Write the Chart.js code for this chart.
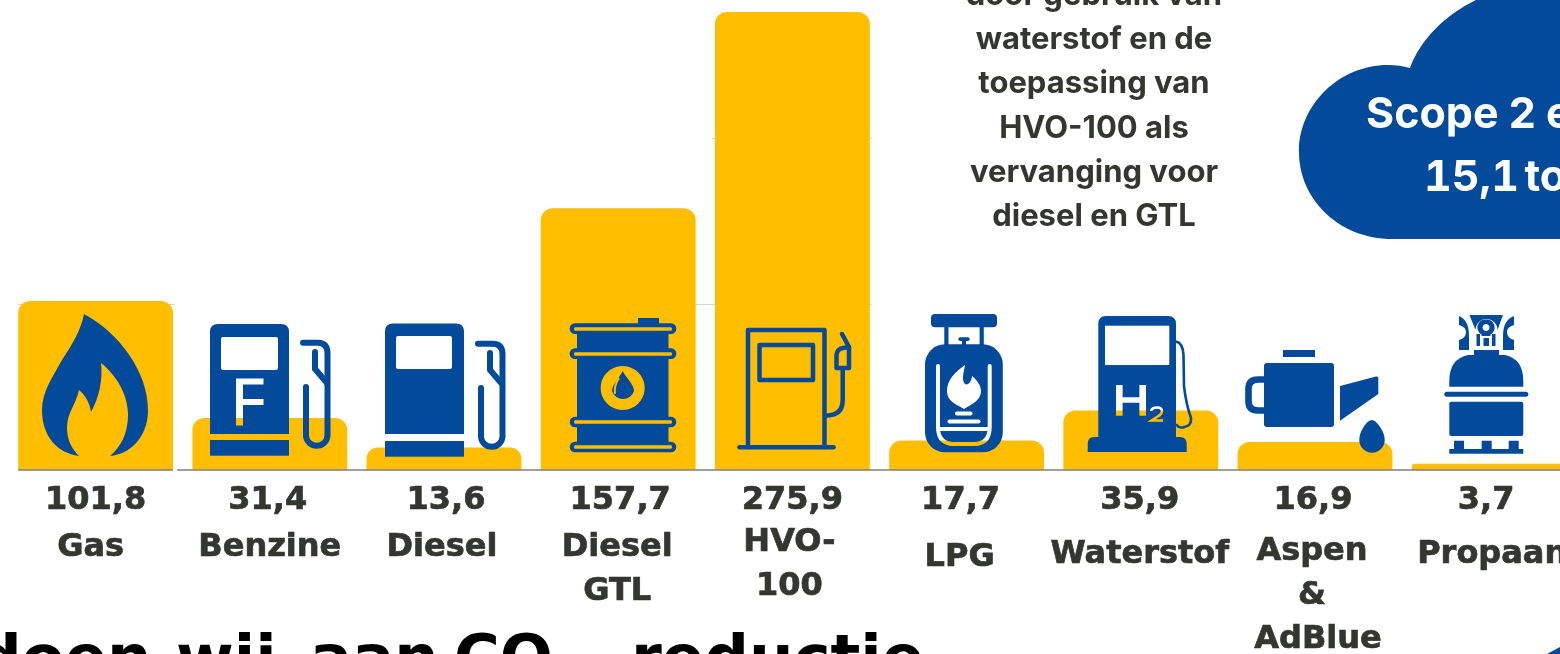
<!DOCTYPE html>
<html lang="nl">
<head>
<meta charset="utf-8">
<title>Brandstofverbruik</title>
<script src="https://cdn.jsdelivr.net/npm/chart.js@4"></script>
<style>
    html, body { margin: 0; padding: 0; background: #fff; }
    body { position: relative; width: 1560px; height: 654px; overflow: hidden; }
    #grafiek { position: absolute; left: 0; top: 0; }
    #iconen { position: absolute; left: 0; top: 0; pointer-events: none; }
    .toelichting {
        position: absolute; left: 934px; width: 320px; text-align: center;
        font: 700 31px/44.2px Inter, sans-serif; color: #333631; white-space: nowrap;
    }
    .wolk { position: absolute; color: #fff; font: 700 43px/50px Inter, sans-serif; white-space: nowrap; }
    .kop {
        position: absolute; top: 621px; white-space: nowrap; color: #000;
        font: 700 62.5px/74px "DejaVu Sans", sans-serif;
    }
    .kop sub { font-size: 36px; position: relative; top: 22px; vertical-align: baseline; }
</style>
</head>
<body>
<canvas id="grafiek" width="1580" height="654"></canvas>

<svg id="iconen" width="1560" height="654" viewBox="0 0 1560 654">
    <defs>
        <mask id="gatenLpg" maskUnits="userSpaceOnUse" x="900" y="300" width="120" height="170">
            <rect x="900" y="300" width="120" height="170" fill="#fff"/>
            <path d="M938 366 V427 Q938 444 954 444 H974 Q989.7 444 989.7 427 V366 M938 429 H989.7" fill="none" stroke="#000" stroke-width="4" stroke-linecap="round"/>
            <path d="M965 365 C955 372 947 380 947 391 C947 402 958 405 964 409 C970 405 981 401 981 391 C981 385 976 379 972 376 C972 381 968 386 965 384 C961 380 964 372 965 365Z" fill="#000"/>
            <rect x="955" y="411.5" width="17.5" height="4" rx="2" fill="#000"/>
            <rect x="947.5" y="419.5" width="33" height="4" rx="2" fill="#000"/>
        </mask>
        <mask id="gatenH2" maskUnits="userSpaceOnUse" x="1080" y="300" width="120" height="170">
            <rect x="1080" y="300" width="120" height="170" fill="#fff"/>
            <rect x="1105" y="325.7" width="64.3" height="39.3" fill="#000"/>
            <path d="M1116 385 H1122.6 V397.3 H1139.4 V385 H1146 V415.7 H1139.4 V402.7 H1122.6 V415.7 H1116Z" fill="#000"/>
            <path d="M1151 411 Q1152 407.5 1157 407.5 Q1162 407.5 1162 411 Q1162 414 1157 417 L1151.5 420.5 H1163" fill="none" stroke="#000" stroke-width="2.6"/>
        </mask>
    </defs>
    <g fill="#034A9A">
        <!-- gas -->
        <path d="M84 314 C118 332 149 372 148 412 C147 438 130 454 110 456 C121 447 128 433 128 415 C128 394 116 375 101 363 C103 380 99 398 91 412 C90 403 85 395 79 390 C76 405 67 412 67 428 C67 440 72 449 79 456 C57 453 42 436 42 410 C42 392 52 378 62 360 C72 345 81 330 84 314Z"/>
        <!-- benzine -->
        <path fill-rule="evenodd" d="M218 324 H281 Q289 324 289 332 V434 H210 V332 Q210 324 218 324Z M223 337 Q221 337 221 339 V368 Q221 370 223 370 H276 Q278 370 278 368 V339 Q278 337 276 337Z M236 378.5 V425.5 H243 V405 H263.5 V399 H243 V384.5 H263.5 V378.5Z"/>
        <rect x="210" y="440" width="79" height="15.7"/>
        <g id="slang" fill="none" stroke="#034A9A" stroke-width="6" stroke-linecap="round">
            <path d="M303 342.7 H318 Q327.5 343 327.5 353 V436 A10.8 10.8 0 0 1 306 436 V387"/>
            <path d="M315 352 V369 L327 383"/>
        </g>
        <!-- diesel -->
        <path fill-rule="evenodd" d="M393 323.5 H456 Q464 323.5 464 331.5 V434 H385 V331.5 Q385 323.5 393 323.5Z M398 336 Q396 336 396 338 V367 Q396 369 398 369 H450 Q452 369 452 367 V338 Q452 336 450 336Z"/>
        <rect x="385" y="441" width="79" height="15.7"/>
        <use href="#slang" transform="translate(175 1)"/>
        <!-- diesel gtl -->
        <rect x="638" y="318" width="21" height="7"/>
        <path fill-rule="evenodd" d="M577 333.5 H668.5 V349 H577Z M577 358.5 H668.5 V417 H577Z M577 427 H668.5 V442 H577Z M622.6 366 A22 22 0 1 0 622.7 366Z"/>
        <path fill-rule="evenodd" d="M575 323.3 H671 A5.3 5.3 0 0 1 671 334 H575 A5.3 5.3 0 0 1 575 323.3Z M575 327.2 Q574 327.2 574 329 Q574 330.8 575 330.8 H671 Q672 330.8 672 329 Q672 327.2 671 327.2Z"/>
        <path fill-rule="evenodd" d="M575 348.3 H671 A5.3 5.3 0 0 1 671 359 H575 A5.3 5.3 0 0 1 575 348.3Z M575 352.2 Q574 352.2 574 354 Q574 355.8 575 355.8 H671 Q672 355.8 672 354 Q672 352.2 671 352.2Z"/>
        <path fill-rule="evenodd" d="M575 416.7 H671 A5.3 5.3 0 0 1 671 427.3 H575 A5.3 5.3 0 0 1 575 416.7Z M575 420.2 Q574 420.2 574 422 Q574 423.8 575 423.8 H671 Q672 423.8 672 422 Q672 420.2 671 420.2Z"/>
        <path fill-rule="evenodd" d="M575 441.7 H671 A5.3 5.3 0 0 1 671 452.3 H575 A5.3 5.3 0 0 1 575 441.7Z M575 445.2 Q574 445.2 574 447 Q574 448.8 575 448.8 H671 Q672 448.8 672 447 Q672 445.2 671 445.2Z"/>
        <path d="M622.6 371 C626 378 634 384 634 391 A11.4 11 0 0 1 612 391 C612 384 620 378 622.6 371Z"/>
        <path d="M619 378 C615 384 614 388 615 394" fill="none" stroke="#FFBF00" stroke-width="2"/>
        <!-- hvo-100 -->
        <g fill="none" stroke="#034A9A" stroke-width="4.5" stroke-linecap="round" stroke-linejoin="round">
            <path d="M748 447 V330 H824.5 V447"/>
            <path d="M739.5 447.3 H833.5"/>
            <rect x="759.5" y="345" width="53.5" height="35"/>
            <path d="M827 415.5 Q842.7 415 842.7 400 V370"/>
            <path d="M836.5 368 V355 Q837 349 843 348 L849 347 V368Z"/>
            <path d="M842 334 L849 347"/>
        </g>
        <!-- lpg -->
        <g mask="url(#gatenLpg)">
            <rect x="931" y="314" width="66" height="13.3" rx="4"/>
            <rect x="944.3" y="327" width="4.2" height="19"/>
            <rect x="979.6" y="327" width="4.2" height="19"/>
            <rect x="958.4" y="337.3" width="11.3" height="3.7" rx="1.8"/>
            <rect x="962" y="340" width="4" height="6"/>
            <rect x="925" y="344.3" width="77.8" height="108" rx="20"/>
        </g>
        <!-- waterstof -->
        <g mask="url(#gatenH2)">
            <path d="M1106 316 H1168 Q1176 316 1176 324 V437 H1180 Q1186.7 437 1186.7 444 V452 H1087.7 V444 Q1087.7 437 1094 437 H1098.3 V324 Q1098.3 316 1106 316Z"/>
        </g>
        <path d="M1176 341.5 Q1183 343 1183.5 355 L1184 386 Q1186 404 1191 418 Q1192 426 1183 427.5 Q1178 428 1176 424" fill="none" stroke="#034A9A" stroke-width="2.6"/>
        <!-- aspen & adblue -->
        <rect x="1283" y="350" width="32" height="7"/>
        <rect x="1264" y="363" width="70" height="64" rx="3"/>
        <path d="M1264 379.5 H1258 Q1248.5 379.5 1248.5 389 V401 Q1248.5 410.5 1258 410.5 H1264" fill="none" stroke="#034A9A" stroke-width="6.6"/>
        <path d="M1340 386 L1376 376.5 Q1378.3 376 1378.3 378 V394 L1340 420.7Z"/>
        <path d="M1372 420 C1376 420 1384.7 431 1384.7 440 A12.7 12.7 0 0 1 1359.3 440 C1359.3 431 1367 420 1372 420Z"/>
        <!-- propaan -->
        <path d="M1474 350 H1499 V355 H1505 Q1523.3 359 1523.3 381 V386.7 H1449.3 V381 Q1449.3 359 1468 355 H1474Z"/>
        <rect x="1444.3" y="391.7" width="84" height="5" rx="2.5"/>
        <rect x="1449.3" y="401.7" width="74" height="34.3" rx="2"/>
        <path d="M1449.3 449 H1454 V440.7 H1464 V449 H1481.7 V440.7 H1491.7 V449 H1508.7 V440.7 H1518.7 V449 H1523.3 V453.7 H1449.3Z"/>
        <path d="M1459 316 Q1469 320 1469 336 V350 H1459 V340 Q1466 338 1466 332 Q1466 327 1459 325Z"/>
        <path d="M1514 316 Q1503 320 1503 336 V350 H1514 V340 Q1507 338 1507 332 Q1507 327 1514 325Z"/>
        <path fill-rule="evenodd" d="M1469.5 315 H1503 L1497.5 330 A11 11 0 1 0 1475.5 330Z"/>
        <path fill-rule="evenodd" d="M1486 319.5 A8 8 0 0 1 1490.5 334.5 V336 H1481.5 V334.5 A8 8 0 0 1 1486 319.5Z M1486 324 A3.5 3.5 0 1 0 1486.1 324Z"/>
        <rect x="1476.5" y="334" width="3.5" height="12"/>
        <rect x="1492" y="334" width="3.5" height="12"/>
        <rect x="1483.5" y="338" width="5.5" height="8"/>
        <!-- wolk -->
        <path d="M1560 239 H1392 C1340 239 1299 200 1299 152 C1299 104 1340 65 1388 65 C1396 65 1403 66 1410 68 C1420 40 1445 15 1476 0 H1560Z"/>
        <path d="M1547 654 L1560 647 V654Z"/>
    </g>
</svg>

<div class="toelichting" style="top:-28px">door gebruik van<br>waterstof en de<br>toepassing van<br>HVO-100 als<br>vervanging voor<br>diesel en GTL</div>
<div class="wolk" style="left:1366px;top:87px">Scope 2 e</div>
<div class="wolk" style="left:1424px;top:150px;font-variant-numeric:tabular-nums;word-spacing:-6px">15,1 to</div>
<span class="kop" style="left:-23px">doen</span>
<span class="kop" style="left:176px">wij</span>
<span class="kop" style="left:310px">aan</span>
<span class="kop" style="left:454px">CO<sub>2</sub></span>
<span class="kop" style="left:605px">-reductie</span>

<script>
// Waarden
const categorieen = [['Gas'], ['Benzine'], ['Diesel'], ['Diesel', 'GTL'], ['HVO-', '100'], ['LPG'], ['Waterstof'], ['Aspen', '&', 'AdBlue'], ['Propaan']];
const waarden = [101.8, 31.4, 13.6, 157.7, 275.9, 17.7, 35.9, 16.9, 3.7];
const asMaximum = 280;

const geel = '#FFBF00';
const tekstKleur = '#333631';
const labelFont = 'bold 32px "DejaVu Sans", sans-serif';

// Tekstvakken staan in het origineel net niet op het midden van de balk
const waardeVerschuiving = [0, -2, 2, 2, 0, -6, -1, -2, -3];
const categorieVerschuiving = [-5, 0, -2, -1, -3, -7, -1, -3, 3];
const categorieTop = [548, 548, 548, 548, 543, 558, 555, 552, 555];
// AdBlue staat in het origineel iets rechts van de regels erboven
const regelVerschuiving = { 7: [0, 0, 6] };

// De rasterlijnen zijn in het origineel grotendeels afgedekt, alleen deze stukken zijn zichtbaar
const rasterStukken = [
    { waarde: 100, van: 0, tot: 0, voor: 0, na: 2 },
    { waarde: 100, van: 3, tot: 4, voor: 0, na: 2 },
    { waarde: 200, van: 4, tot: 4, voor: 3, na: 2 }
];

const rasterEnTekst = {
    id: 'rasterEnTekst',
    beforeDatasetsDraw(chart) {
        const { ctx, scales: { x, y } } = chart;
        const balken = chart.getDatasetMeta(0).data;
        ctx.save();
        ctx.strokeStyle = '#d4d4d4';
        ctx.lineWidth = 1;
        rasterStukken.forEach(stuk => {
            const hoogte = Math.round(y.getPixelForValue(stuk.waarde)) + 0.5;
            ctx.beginPath();
            ctx.moveTo(balken[stuk.van].x - balken[stuk.van].width / 2 - stuk.voor, hoogte);
            ctx.lineTo(balken[stuk.tot].x + balken[stuk.tot].width / 2 + stuk.na, hoogte);
            ctx.stroke();
        });
        ctx.restore();
    },
    afterDatasetsDraw(chart) {
        const { ctx, scales: { x, y } } = chart;
        const balken = chart.getDatasetMeta(0).data;
        const nul = y.getPixelForValue(0);

        // nullijn met het kleine onderbrekinkje na de eerste balk
        ctx.save();
        ctx.strokeStyle = '#808080';
        ctx.lineWidth = 1.5;
        ctx.beginPath();
        ctx.moveTo(balken[0].x - balken[0].width / 2, nul);
        ctx.lineTo(balken[0].x + balken[0].width / 2, nul);
        ctx.moveTo(balken[0].x + balken[0].width / 2 + 4, nul);
        ctx.lineTo(chart.width, nul);
        ctx.stroke();

        ctx.fillStyle = tekstKleur;
        ctx.strokeStyle = tekstKleur;
        ctx.lineWidth = 0.7;
        ctx.font = labelFont;
        ctx.textAlign = 'center';
        ctx.textBaseline = 'middle';
        const schrijf = (tekst, px, py) => {
            ctx.fillText(tekst, px, py);
            ctx.strokeText(tekst, px, py);
        };
        waarden.forEach((waarde, i) => {
            const tekst = waarde.toLocaleString('nl-NL', { minimumFractionDigits: 1 });
            schrijf(tekst, x.getPixelForValue(i) + waardeVerschuiving[i], 501);
            categorieen[i].forEach((regel, r) => {
                const extra = regelVerschuiving[i] ? regelVerschuiving[i][r] : 0;
                schrijf(regel, x.getPixelForValue(i) + categorieVerschuiving[i] + extra, categorieTop[i] + r * 44);
            });
        });
        ctx.restore();
    }
};

new Chart(document.getElementById('grafiek'), {
    type: 'bar',
    data: {
        labels: categorieen.map(regels => regels.join(' ')),
        datasets: [{
            data: waarden,
            backgroundColor: geel,
            categoryPercentage: 1,
            barPercentage: 0.889,
            borderRadius: 12,
            borderSkipped: 'start'
        }]
    },
    options: {
        responsive: false,
        animation: false,
        layout: { padding: { left: 8.5, right: 3.7, top: 5.2, bottom: 184 } },
        scales: {
            x: { display: false },
            y: { display: false, min: 0, max: asMaximum }
        },
        plugins: {
            legend: { display: false },
            title: { display: false },
            tooltip: { enabled: false }
        }
    },
    plugins: [rasterEnTekst]
});
</script>
</body>
</html>
